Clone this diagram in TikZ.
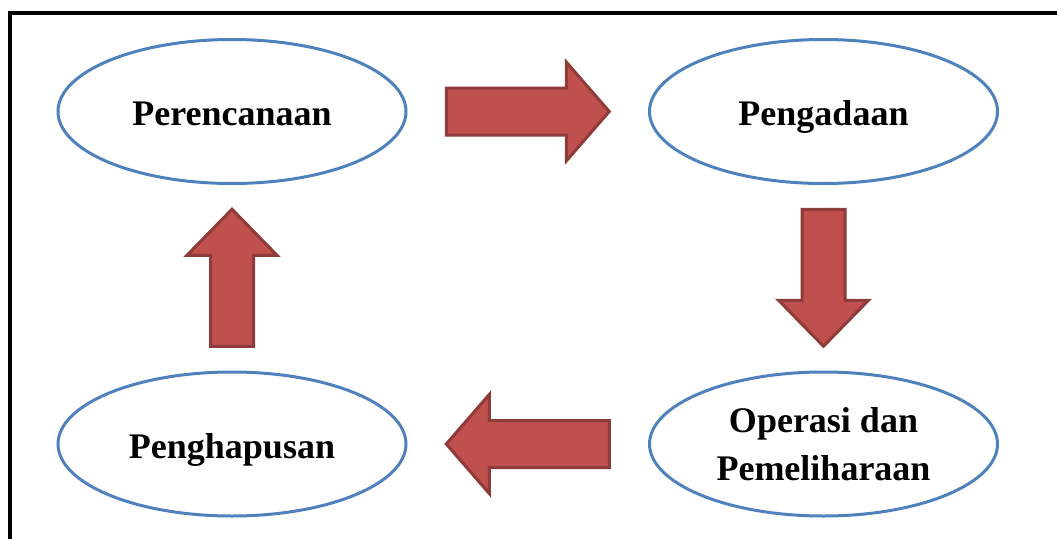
\documentclass[tikz,border=0pt]{standalone}
\usepackage{fontspec}
\setmainfont{Liberation Serif}
\usetikzlibrary{calc,shapes.geometric}
\definecolor{stageblue}{HTML}{4F81BD}
\definecolor{arrowfill}{HTML}{C0504D}
\definecolor{arrowline}{HTML}{8E3B39}
% block arrow: #1 centre, #2 direction angle, #3 half length,
% #4 shaft half width, #5 head half width, #6 head length
\newcommand{\flowarrow}[6]{%
  \draw[blockarrow, shift={#1}, rotate=#2]
    (-#3,-#4) -- (#3-#6,-#4) -- (#3-#6,-#5) -- (#3,0)
    -- (#3-#6,#5) -- (#3-#6,#4) -- (-#3,#4) -- cycle;}
\begin{document}
\begin{tikzpicture}[x=1pt,y=-1pt,
  stage/.style={ellipse, draw=stageblue, line width=3pt,
    minimum width=348pt, minimum height=144pt, inner sep=0pt,
    font=\fontsize{36}{48}\selectfont\bfseries, align=center},
  oneline/.style={text height=28pt, text depth=0pt},
  blockarrow/.style={fill=arrowfill, draw=arrowline, line width=3pt,
    line join=miter}]
\useasboundingbox (0,0) rectangle (1057,538);

% frame
\draw[line width=4pt, line join=miter] (10,540) -- (10,13) -- (1060,13);

% stages of the cycle
\node[stage, oneline] (plan) at (232,111.5) {Perencanaan};
\node[stage, oneline] (proc) at (823.5,111.5) {Pengadaan};
\node[stage] (ops) at (823.5,444) {Operasi dan\\Pemeliharaan};
\node[stage, oneline] (del) at (232,444) {Penghapusan};

% arrows between stages
\flowarrow{($(plan.east)!0.5!(proc.west)$)}{0}{81.5}{23.5}{49.5}{43}
\flowarrow{($(proc.south)!0.5!(ops.north)$)}{-90}{68.5}{21.5}{45}{46}
\flowarrow{($(ops.west)!0.5!(del.east)$)}{180}{81.5}{23.5}{49.5}{43}
\flowarrow{($(del.north)!0.5!(plan.south)$)}{90}{68.5}{21.5}{45}{46}
\end{tikzpicture}
\end{document}
